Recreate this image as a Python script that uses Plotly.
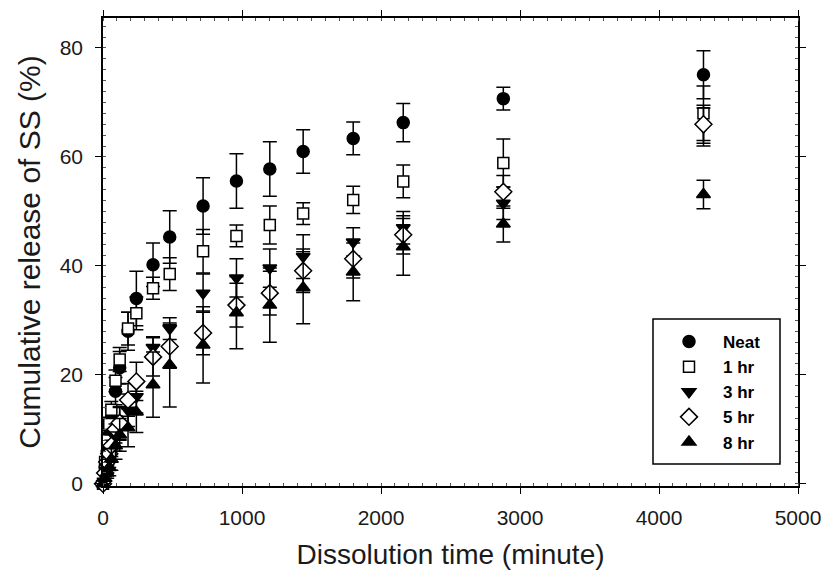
import plotly.graph_objects as go

time_min = [0, 15, 30, 45, 60, 90, 120, 180, 240, 360, 480, 720, 960, 1200, 1440, 1800, 2160, 2880, 4320]

neat = [0, 3, 6, 9, 12, 17, 21.3, 28, 34, 40.2, 45.3, 51, 55.6, 57.8, 61, 63.4, 66.3, 70.7, 75.1]
neat_err = [0, 0.5, 1, 1.5, 2, 2.5, 3, 3.5, 5, 4, 4.8, 5.2, 5, 5, 4, 3, 3.5, 2.1, 4.4]

hr1 = [0, 4, 8, 11, 13.6, 18.9, 22.8, 28.5, 31.3, 35.9, 38.5, 42.7, 45.5, 47.5, 49.6, 52.1, 55.5, 58.9, 68]
hr1_err = [0, 0.5, 1, 1.2, 1.5, 2, 2.2, 3, 3, 2, 3, 4, 2, 3.5, 2, 2.5, 3, 4.4, 5]

hr3 = [0, 1.5, 3, 4.5, 6, 8.5, 11, 13.5, 16, 25, 28.5, 35, 37.8, 39.6, 41.7, 44.4, 47, 51.5, 65.5]
hr3_err = [0, 0.5, 1, 1.5, 2, 2.5, 3, 3, 3, 2, 2, 3.5, 3.5, 3.5, 4, 2.6, 3, 3, 3.5]

hr5 = [0, 2, 4, 5.5, 7, 10, 11.2, 15.4, 18.8, 23.3, 25.2, 27.7, 32.8, 35, 39.1, 41.3, 45.7, 53.6, 66]
hr5_err = [0, 0.5, 1, 1.5, 2, 2.5, 3, 3, 3.5, 3.5, 4, 4, 4, 4, 4, 3.5, 3.5, 3, 3.5]

hr8 = [0, 1, 2, 3, 4.5, 7, 9, 10.3, 13.2, 18.2, 21.8, 25.5, 31.4, 32.8, 36, 38.9, 43.5, 47.7, 53.1]
hr8_err = [0, 0.5, 1, 1.5, 2, 2.5, 3, 3.5, 3.8, 6, 7.7, 7, 6.6, 6.8, 6.6, 5.3, 5.2, 3.3, 2.6]

series = [
    ("Neat", neat, neat_err, "circle", "black", 12),
    ("1 hr", hr1, hr1_err, "square", "white", 11),
    ("3 hr", hr3, hr3_err, "triangle-down", "black", 12),
    ("5 hr", hr5, hr5_err, "diamond", "white", 13),
    ("8 hr", hr8, hr8_err, "triangle-up", "black", 12),
]

FONT = "Liberation Sans, Arial, sans-serif"

# page body has an 8px margin; figure is sized so that it fills the 829x574 window
W, H = 821, 566
ML, MR, MT, MB = 95, 31, 10, 88
PW = W - ML - MR
PH = H - MT - MB

fig = go.Figure()
for name, vals, errs, sym, fill, sz in series:
    fig.add_trace(go.Scatter(
        x=time_min, y=vals, mode="markers", name=name,
        marker=dict(symbol=sym, size=sz, color=fill, line=dict(color="black", width=1.5)),
        error_y=dict(type="data", array=errs, visible=True, color="black", thickness=1.5, width=7),
        cliponaxis=False,
    ))

# legend frame (page pixel coordinates -> paper fractions)
def px_x(p):
    return (p - 8 - ML) / PW

def px_y(p):
    return (H - MB + 8 - p) / PH

fig.add_shape(type="rect", xref="paper", yref="paper",
              x0=px_x(653), x1=px_x(780), y0=px_y(464), y1=px_y(319),
              line=dict(color="black", width=1.5), fillcolor="white", layer="above")

axis_font = dict(family=FONT, size=21, color="#1a1a1a")
fig.update_layout(
    width=W, height=H,
    margin=dict(l=ML, r=MR, t=MT, b=MB),
    paper_bgcolor="white", plot_bgcolor="white",
    font=dict(family=FONT, color="#1a1a1a"),
    showlegend=True,
    legend=dict(
        x=px_x(655), y=px_y(324), xanchor="left", yanchor="top",
        bgcolor="rgba(0,0,0,0)", borderwidth=0,
        font=dict(family=FONT, size=17, color="black", weight="bold"),
        itemwidth=58, tracegroupgap=0,
    ),
    xaxis=dict(
        range=[0, 5000], tickvals=[0, 1000, 2000, 3000, 4000, 5000],
        showline=True, linecolor="black", linewidth=1.5, mirror="allticks",
        ticks="outside", ticklen=6, tickcolor="black", tickwidth=1.2,
        minor=dict(dtick=100, ticks="inside", ticklen=3, tickcolor="#555", tickwidth=1),
        showgrid=False, zeroline=False, tickfont=axis_font, automargin=False,
        ticklabelstandoff=6,
        title=dict(text="Dissolution time (minute)", font=dict(family=FONT, size=28, color="#1a1a1a"), standoff=16),
    ),
    yaxis=dict(
        range=[-0.4, 85.5], tickvals=[0, 20, 40, 60, 80],
        showline=True, linecolor="black", linewidth=1.5, mirror="allticks",
        ticks="outside", ticklen=6, tickcolor="black", tickwidth=1.2,
        minor=dict(dtick=2, ticks="inside", ticklen=3, tickcolor="#555", tickwidth=1),
        showgrid=False, zeroline=False, tickfont=axis_font, automargin=False,
        ticklabelstandoff=8,
        title=dict(text="Cumulative release of SS (%)", font=dict(family=FONT, size=30, color="#1a1a1a"), standoff=10),
    ),
)

fig.write_html("out.html")
